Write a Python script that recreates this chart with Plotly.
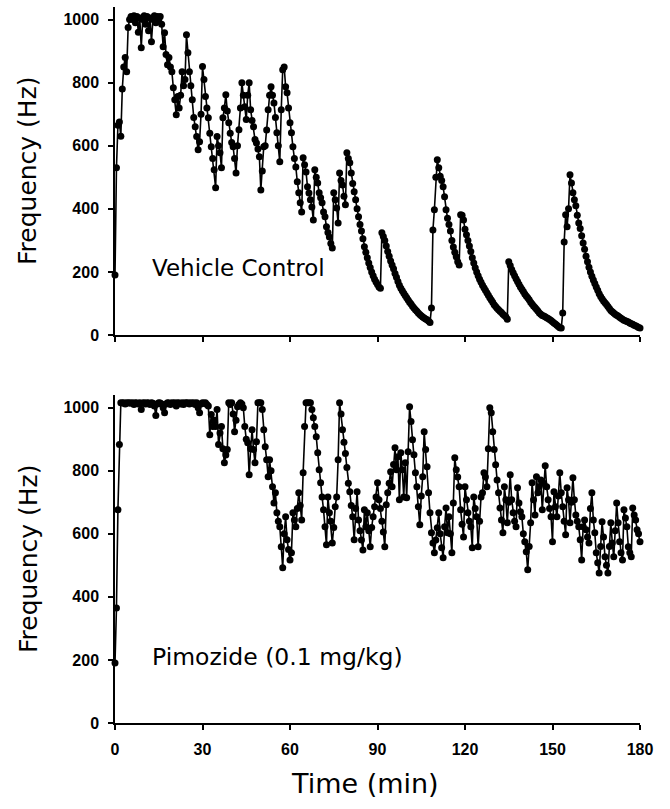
import numpy as np
import plotly.graph_objects as go

time_step_min = 0.5

vehicle_hz = [
    190, 530, 665, 675, 630, 780, 850, 880, 835, 975,
    1000, 1010, 1000, 1012, 990, 1010, 960, 1005, 911, 1000,
    1012, 985, 1010, 965, 1005, 930, 1000, 1012, 990, 1010,
    1000, 1010, 985, 914, 958, 889, 857, 880, 850, 835,
    784, 746, 698, 756, 720, 760, 835, 790, 810, 952,
    895, 835, 790, 746, 690, 660, 629, 587, 613, 700,
    851, 810, 756, 720, 689, 640, 597, 560, 524, 467,
    629, 600, 578, 530, 689, 720, 762, 710, 673, 640,
    610, 597, 560, 514, 600, 651, 720, 800, 760, 724,
    683, 760, 800, 714, 680, 660, 620, 609, 590, 565,
    460, 520, 597, 600, 650, 714, 760, 787, 760, 736,
    690, 641, 600, 549, 714, 841, 850, 787, 768, 720,
    673, 641, 597, 560, 533, 486, 451, 419, 390, 562,
    540, 517, 470, 450, 429, 406, 365, 524, 500, 482,
    451, 435, 419, 390, 375, 343, 325, 311, 290, 276,
    451, 429, 403, 355, 514, 490, 476, 440, 413, 578,
    560, 546, 514, 480, 454, 429, 400, 375, 350, 330,
    305, 280, 262, 245, 228, 214, 200, 188, 177, 168,
    160, 152, 148, 324, 312, 300, 282, 265, 250, 235,
    222, 210, 195, 183, 170, 158, 148, 140, 132, 125,
    118, 111, 104, 98, 91, 86, 80, 75, 70, 65,
    61, 57, 54, 51, 48, 44, 40, 86, 333, 397,
    500, 556, 530, 503, 490, 470, 438, 397, 370, 350,
    330, 300, 279, 262, 248, 232, 222, 381, 380, 365,
    335, 318, 300, 282, 265, 245, 228, 213, 200, 188,
    177, 167, 158, 150, 142, 134, 126, 118, 111, 104,
    96, 90, 85, 80, 75, 71, 66, 62, 58, 50,
    232, 220, 208, 197, 188, 178, 170, 161, 152, 145,
    138, 130, 124, 118, 112, 104, 98, 92, 87, 82,
    76, 70, 66, 62, 60, 58, 55, 52, 49, 46,
    42, 38, 35, 31, 27, 23, 22, 70, 295, 381,
    343, 400, 508, 482, 451, 429, 410, 380, 355, 338,
    315, 292, 272, 250, 232, 215, 200, 186, 174, 163,
    152, 142, 131, 122, 115, 108, 102, 97, 90, 84,
    78, 74, 70, 66, 63, 60, 56, 53, 50, 47,
    45, 43, 41, 38, 36, 34, 31, 29, 27, 24, 22,
]

pimozide_hz = [
    190, 365, 676, 883, 1016, 1015, 1016, 1012, 1016, 1015,
    1016, 1014, 1016, 1010, 1016, 1015, 1012, 1016, 994, 1015,
    1016, 1012, 1016, 1015, 1010, 1016, 1014, 1005, 975, 1012,
    1016, 1015, 1012, 1000, 984, 1012, 1016, 1015, 1010, 1016,
    1014, 1016, 1005, 1016, 1015, 1012, 1016, 1010, 1016, 1015,
    1016, 1012, 1016, 1014, 1016, 1010, 1016, 1000, 984, 1012,
    1016, 1014, 1016, 1010, 1005, 914, 978, 940, 960, 940,
    994, 883, 920, 940, 870, 825, 850, 867, 1016, 1010,
    1016, 980, 924, 960, 1003, 1010, 1016, 1012, 1000, 940,
    900, 889, 787, 870, 930, 867, 825, 892, 1016, 1016,
    1016, 994, 930, 876, 835, 781, 835, 800, 749, 698,
    730, 667, 640, 622, 559, 492, 600, 654, 581, 550,
    517, 540, 667, 644, 622, 680, 730, 690, 644, 794,
    940, 1016, 1016, 1016, 1016, 994, 968, 940, 908, 857,
    803, 762, 717, 676, 622, 565, 717, 667, 640, 571,
    620, 686, 717, 835, 1016, 980, 930, 890, 855, 810,
    760, 733, 690, 654, 581, 680, 733, 644, 610, 580,
    549, 676, 622, 667, 610, 559, 620, 654, 686, 717,
    762, 708, 680, 640, 606, 559, 692, 730, 760, 797,
    749, 820, 873, 803, 844, 708, 857, 803, 717, 825,
    714, 860, 1003, 956, 898, 851, 794, 749, 686, 629,
    720, 781, 924, 867, 813, 730, 667, 603, 571, 540,
    580, 619, 667, 600, 556, 524, 622, 682, 603, 654,
    600, 540, 698, 841, 803, 780, 749, 676, 630, 590,
    749, 708, 667, 640, 622, 556, 717, 680, 654, 559,
    640, 717, 730, 794, 780, 749, 870, 1000, 984, 924,
    867, 819, 771, 730, 682, 644, 603, 749, 708, 635,
    700, 787, 708, 667, 640, 622, 746, 698, 670, 654,
    600, 575, 543, 486, 560, 635, 762, 708, 660, 781,
    730, 750, 771, 676, 760, 816, 749, 708, 680, 654,
    575, 733, 686, 654, 720, 794, 730, 686, 640, 597,
    746, 708, 635, 700, 778, 708, 660, 640, 622, 581,
    517, 622, 644, 613, 590, 571, 680, 730, 644, 603,
    540, 508, 476, 560, 638, 590, 527, 500, 476, 560,
    635, 571, 527, 610, 698, 635, 575, 540, 517, 676,
    650, 622, 559, 540, 527, 682, 660, 644, 613, 600, 575,
]

time_min = np.arange(len(vehicle_hz)) * time_step_min

x_ticks = [0, 30, 60, 90, 120, 150, 180]
y_ticks = [0, 200, 400, 600, 800, 1000]

panel_labels = ["Vehicle Control", "Pimozide (0.1 mg/kg)"]
y_title = "Frequency (Hz)"
x_title = "Time (min)"

FONT = "DejaVu Sans"
TICK_FONT = "Liberation Sans"

fig = go.Figure()
for series, xa, ya in [(vehicle_hz, "x", "y"), (pimozide_hz, "x2", "y2")]:
    fig.add_trace(go.Scatter(
        x=time_min, y=series, mode="lines+markers",
        xaxis=xa, yaxis=ya,
        line=dict(color="black", width=1.6),
        marker=dict(color="black", size=7),
        cliponaxis=False, showlegend=False,
    ))

axis_common = dict(
    showline=True, linecolor="black", linewidth=1.5,
    ticks="outside", ticklen=5, tickwidth=1.5, tickcolor="black",
    showgrid=False, zeroline=False,
    tickfont=dict(family=TICK_FONT, size=16, color="black", weight="bold"),
)

top_dom = [0.5419, 1.0]
bot_dom = [0.0, 0.458]

fig.update_layout(
    width=670, height=809,
    margin=dict(l=115, r=30, t=7, b=86),
    plot_bgcolor="white", paper_bgcolor="white",
    xaxis=dict(domain=[0, 1], anchor="y", range=[0, 180], tickvals=x_ticks,
               showticklabels=False, **axis_common),
    yaxis=dict(domain=top_dom, anchor="x", range=[0, 1040], tickvals=y_ticks,
               ticklabelstandoff=6, **axis_common),
    xaxis2=dict(domain=[0, 1], anchor="y2", range=[0, 180], tickvals=x_ticks,
                ticklabelstandoff=6, **axis_common),
    yaxis2=dict(domain=bot_dom, anchor="x2", range=[0, 1040], tickvals=y_ticks,
                ticklabelstandoff=6, **axis_common),
)

ann = []
for dom in (top_dom, bot_dom):
    ann.append(dict(text=y_title, xref="paper", yref="paper",
                    x=-0.1657, y=(dom[0] + dom[1]) / 2, textangle=-90,
                    showarrow=False, xanchor="center", yanchor="middle",
                    font=dict(family=FONT, size=25, color="black")))
ann.append(dict(text=x_title, xref="paper", yref="paper", x=0.476, y=-0.0838,
                showarrow=False, xanchor="center", yanchor="middle",
                font=dict(family=FONT, size=27, color="black")))
ann.append(dict(text=panel_labels[0], xref="x", yref="y", x=12, y=213,
                showarrow=False, xanchor="left", yanchor="middle",
                font=dict(family=FONT, size=23, color="black")))
ann.append(dict(text=panel_labels[1], xref="x2", yref="y2", x=12, y=210,
                showarrow=False, xanchor="left", yanchor="middle",
                font=dict(family=FONT, size=23.5, color="black")))
fig.update_layout(annotations=ann)

fig.write_html(
    "out.html",
    config={"displayModeBar": False},
    post_script="document.body.style.margin='0';document.body.style.padding='0';",
)
